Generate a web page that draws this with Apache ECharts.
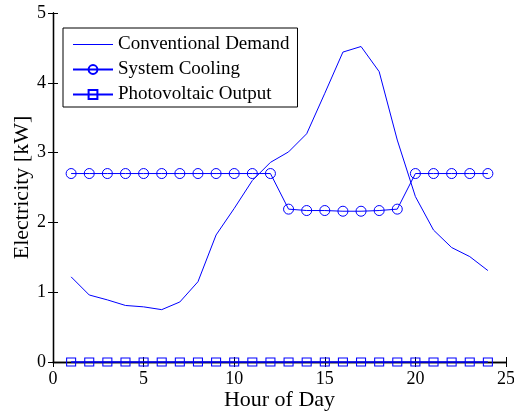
<!DOCTYPE html>
<html>
<head>
<meta charset="utf-8">
<script src="https://cdn.jsdelivr.net/npm/echarts@6/dist/echarts.min.js"></script>
<style>
  html, body { margin: 0; padding: 0; background: #fff; }
  #chart { width: 514px; height: 412px; }
</style>
</head>
<body>
<div id="chart"></div>
<script>
// Hourly electricity profiles (kW)
const hours = [1, 2, 3, 4, 5, 6, 7, 8, 9, 10, 11, 12, 13, 14, 15, 16, 17, 18, 19, 20, 21, 22, 23, 24];
const conventionalDemand = [1.22, 0.96, 0.89, 0.81, 0.79, 0.75, 0.86, 1.15, 1.82, 2.20, 2.60, 2.86,
                            3.01, 3.27, 3.85, 4.44, 4.52, 4.16, 3.18, 2.37, 1.89, 1.64, 1.51, 1.31];
const systemCooling = [2.70, 2.70, 2.70, 2.70, 2.70, 2.70, 2.70, 2.70, 2.70, 2.70, 2.70, 2.70,
                       2.19, 2.17, 2.17, 2.16, 2.16, 2.17, 2.19, 2.70, 2.70, 2.70, 2.70, 2.70];
const photovoltaicOutput = [0, 0, 0, 0, 0, 0, 0, 0, 0, 0, 0, 0,
                            0, 0, 0, 0, 0, 0, 0, 0, 0, 0, 0, 0];
const seriesNames = ['Conventional Demand', 'System Cooling', 'Photovoltaic Output'];

const FONT = '"Liberation Serif", "Times New Roman", serif';
const BLUE = '#0000ff';

const pairs = arr => hours.map((h, i) => [h, arr[i]]);

const axisCommon = {
  axisLine: { show: true, lineStyle: { color: '#000', width: 1.3 } },
  axisTick: { show: true, inside: true, length: 5, lineStyle: { color: '#000' } },
  splitLine: { show: false },
  axisLabel: { color: '#000', fontFamily: FONT, fontSize: 18 }
};

const chart = echarts.init(document.getElementById('chart'), null, { renderer: 'canvas' });
chart.setOption({
  animation: false,
  backgroundColor: '#fff',
  grid: { left: 53, top: 13, right: 8, bottom: 50, containLabel: false, outerBoundsMode: 'none' },
  xAxis: [
    Object.assign({}, axisCommon, {
      type: 'value', min: 0, max: 25, interval: 5,
      name: 'Hour of Day', nameLocation: 'middle', nameGap: 27, nameMoveOverlap: false,
      nameTextStyle: { color: '#000', fontFamily: FONT, fontSize: 22 },
      axisLabel: Object.assign({}, axisCommon.axisLabel, { margin: 8 })
    }),
    Object.assign({}, axisCommon, {
      type: 'value', min: 0, max: 25, interval: 5, position: 'top',
      axisLabel: { show: false }
    })
  ],
  yAxis: [
    Object.assign({}, axisCommon, {
      type: 'value', min: 0, max: 5, interval: 1,
      name: 'Electricity [kW]', nameLocation: 'middle', nameGap: 20, nameMoveOverlap: false,
      nameTextStyle: { color: '#000', fontFamily: FONT, fontSize: 22 },
      axisLabel: Object.assign({}, axisCommon.axisLabel, { margin: 7 })
    }),
    Object.assign({}, axisCommon, {
      type: 'value', min: 0, max: 5, interval: 1, position: 'right',
      axisLabel: { show: false }
    })
  ],
  legend: {
    orient: 'vertical',
    left: 63, top: 28,
    padding: [7, 8, 3, 9],
    itemWidth: 40, itemHeight: 11, itemGap: 6,
    borderColor: '#000', borderWidth: 1,
    backgroundColor: '#fff',
    textStyle: { color: '#000', fontFamily: FONT, fontSize: 19 },
    data: [
      // plain line swatch for the marker-less series
      { name: seriesNames[0], icon: 'path://M0,0L40,0L40,1L0,1Z' },
      { name: seriesNames[1] },
      { name: seriesNames[2] }
    ]
  },
  series: [
    {
      name: seriesNames[0], type: 'line', data: pairs(conventionalDemand),
      symbol: 'none',
      lineStyle: { color: BLUE, width: 1 }, itemStyle: { color: BLUE }
    },
    {
      name: seriesNames[1], type: 'line', data: pairs(systemCooling),
      symbol: 'circle', symbolSize: 10, clip: false,
      lineStyle: { color: BLUE, width: 1 },
      itemStyle: { color: 'none', borderColor: BLUE, borderWidth: 1 }
    },
    {
      name: seriesNames[2], type: 'line', data: pairs(photovoltaicOutput),
      symbol: 'rect', symbolSize: [9, 8], clip: false,
      lineStyle: { color: BLUE, width: 1.5 },
      itemStyle: { color: 'none', borderColor: BLUE, borderWidth: 1 }
    }
  ]
});
</script>
</body>
</html>
